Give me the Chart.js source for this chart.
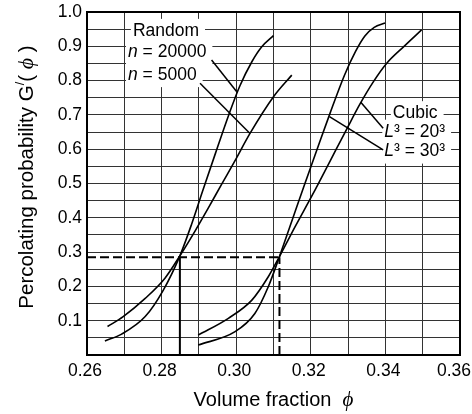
<!DOCTYPE html>
<html>
<head>
<meta charset="utf-8">
<script src="https://cdn.jsdelivr.net/npm/chart.js@4.4.0/dist/chart.umd.min.js"></script>
<style>
  html, body { margin: 0; padding: 0; background: #fff; }
  #wrap { width: 472px; height: 414px; }
</style>
</head>
<body>
<div id="wrap"><canvas id="grafico" width="472" height="414"></canvas></div>
<script>
// curvas (fração de volume, probabilidade)
const phiRandom20k = [0.2648, 0.2693, 0.2756, 0.2805, 0.2849, 0.2880, 0.2910, 0.2945, 0.2980, 0.3010, 0.3042, 0.3068, 0.3100];
const pRandom20k   = [0.041, 0.061, 0.112, 0.190, 0.289, 0.380, 0.478, 0.590, 0.700, 0.785, 0.855, 0.898, 0.931];

const phiRandom5k = [0.2655, 0.2697, 0.2756, 0.2809, 0.2849, 0.2890, 0.2925, 0.2960, 0.2995, 0.3037, 0.3100, 0.3149];
const pRandom5k   = [0.083, 0.112, 0.165, 0.224, 0.289, 0.362, 0.428, 0.496, 0.563, 0.646, 0.753, 0.816];

const phiCubic30 = [0.2898, 0.2997, 0.3050, 0.3086, 0.3116, 0.3149, 0.3180, 0.3216, 0.3251, 0.3290, 0.3320, 0.3345, 0.3370, 0.3399];
const pCubic30   = [0.029, 0.068, 0.121, 0.199, 0.287, 0.390, 0.487, 0.597, 0.703, 0.815, 0.885, 0.930, 0.955, 0.968];

const phiCubic20 = [0.2898, 0.2979, 0.3042, 0.3086, 0.3116, 0.3158, 0.3205, 0.3251, 0.3296, 0.3332, 0.3368, 0.3403, 0.3450, 0.3497];
const pCubic20   = [0.058, 0.107, 0.160, 0.228, 0.287, 0.374, 0.468, 0.564, 0.658, 0.732, 0.797, 0.850, 0.900, 0.948];

// limiares de percolação
const phiCritRandom = 0.2849;
const phiCritCubic = 0.3116;
const pCrit = 0.285;

// linhas de indicação das legendas [phi1, p1, phi2, p2]
const pointer20k = [0.2934, 0.860, 0.3001, 0.768];
const pointer5k  = [0.2903, 0.792, 0.3037, 0.646];
const pointerC20 = [0.3394, 0.661, 0.3334, 0.737];
const pointerC30 = [0.3394, 0.598, 0.3250, 0.695];

// textos das legendas
const noteText = ['Random', 'n = 20000', 'n = 5000', 'Cubic', 'L³ = 20³', 'L³ = 30³'];
const notePhi  = [0.2723, 0.2710, 0.2710, 0.3420, 0.3397, 0.3397];
const noteP    = [0.945, 0.883, 0.816, 0.705, 0.651, 0.593];

const FONTE = '"Liberation Sans", Arial, sans-serif';
const FONTE_PHI = '"Liberation Serif", "DejaVu Serif", serif';

const pontos = (xs, ys) => xs.map((x, i) => ({ x, y: ys[i] }));
const segmento = s => [{ x: s[0], y: s[1] }, { x: s[2], y: s[3] }];

function curva(xs, ys) {
  return {
    data: pontos(xs, ys),
    showLine: true,
    borderColor: '#000',
    borderWidth: 1.6,
    pointRadius: 0,
    cubicInterpolationMode: 'monotone'
  };
}

function reta(dados, largura, traco) {
  return {
    data: dados,
    showLine: true,
    borderColor: '#000',
    borderWidth: largura,
    borderDash: traco || [],
    pointRadius: 0,
    tension: 0
  };
}

// desenha texto com partes em itálico / sobrescrito
function textoRico(ctx, partes, x, y, alinhar) {
  let total = 0;
  partes.forEach(p => { ctx.font = p.font; total += ctx.measureText(p.t).width; });
  let cx = alinhar === 'center' ? x - total / 2 : x;
  ctx.textBaseline = 'middle';
  ctx.textAlign = 'left';
  partes.forEach(p => {
    ctx.font = p.font;
    ctx.fillText(p.t, cx, y + (p.dy || 0));
    cx += ctx.measureText(p.t).width;
  });
  return total;
}

function partesNota(txt) {
  const normal = '17.5px ' + FONTE;
  const ital = 'italic 17.5px ' + FONTE;
  if (txt.startsWith('n ') || txt.startsWith('L')) {
    return [{ t: txt[0], font: ital }, { t: txt.slice(1), font: normal }];
  }
  return [{ t: txt, font: normal }];
}

const sobreposicao = {
  id: 'sobreposicao',
  beforeDatasetsDraw(chart) {
    const ctx = chart.ctx;
    const sx = chart.scales.x, sy = chart.scales.y;
    ctx.save();
    ctx.fillStyle = '#fff';
    noteText.forEach((txt, i) => {
      let w = 0;
      partesNota(txt).forEach(p => { ctx.font = p.font; w += ctx.measureText(p.t).width; });
      const px = sx.getPixelForValue(notePhi[i]);
      const py = sy.getPixelForValue(noteP[i]);
      ctx.fillRect(px - 2, py - 12, w + 8, 24);
    });
    ctx.restore();
  },
  afterDraw(chart) {
    const ctx = chart.ctx;
    const a = chart.chartArea;
    const sx = chart.scales.x, sy = chart.scales.y;
    ctx.save();
    ctx.fillStyle = '#000';

    noteText.forEach((txt, i) => {
      textoRico(ctx, partesNota(txt), sx.getPixelForValue(notePhi[i]), sy.getPixelForValue(noteP[i]), 'left');
    });

    // rótulos do eixo x (o último encostado à borda da figura)
    ctx.font = '17.5px ' + FONTE;
    ctx.textBaseline = 'top';
    ctx.textAlign = 'center';
    sx.ticks.forEach(t => {
      const c = Math.round(t.value * 100);
      if (c % 2 !== 0) return;
      const txt = t.value.toFixed(2);
      const w = ctx.measureText(txt).width;
      let px = sx.getPixelForValue(t.value) - 2;
      px = Math.min(px, chart.width - 1 - w / 2);
      ctx.fillText(txt, px, a.bottom + 7);
    });

    // moldura
    ctx.strokeStyle = '#000';
    ctx.lineWidth = 2;
    ctx.strokeRect(a.left, a.top, a.right - a.left, a.bottom - a.top);

    // título do eixo x
    textoRico(ctx, [
      { t: 'Volume fraction  ', font: '20px ' + FONTE },
      { t: 'ϕ', font: 'italic 21px ' + FONTE_PHI }
    ], (a.left + a.right) / 2, 400, 'center');

    // título do eixo y
    ctx.translate(27, 177);
    ctx.rotate(-Math.PI / 2);
    textoRico(ctx, [
      { t: 'Percolating probability G', font: '20.5px ' + FONTE },
      { t: '/', font: '13px ' + FONTE, dy: -7 },
      { t: '( ', font: '20.5px ' + FONTE },
      { t: 'ϕ', font: 'italic 22px ' + FONTE_PHI },
      { t: ' )', font: '20.5px ' + FONTE }
    ], 0, 0, 'center');
    ctx.restore();
  }
};

const grade = { color: '#333', lineWidth: 1, borderDash: [1, 1], drawTicks: false, tickLength: 0 };

new Chart(document.getElementById('grafico').getContext('2d'), {
  type: 'scatter',
  data: {
    datasets: [
      curva(phiRandom20k, pRandom20k),
      curva(phiRandom5k, pRandom5k),
      curva(phiCubic30, pCubic30),
      curva(phiCubic20, pCubic20),
      reta([{ x: 0.26, y: pCrit }, { x: phiCritCubic, y: pCrit }], 2, [9, 4]),
      reta([{ x: phiCritCubic, y: 0 }, { x: phiCritCubic, y: pCrit }], 2, [9, 4]),
      reta([{ x: phiCritRandom, y: 0 }, { x: phiCritRandom, y: pCrit }], 2),
      reta(segmento(pointer20k), 1.5),
      reta(segmento(pointer5k), 1.5),
      reta(segmento(pointerC20), 1.5),
      reta(segmento(pointerC30), 1.5)
    ]
  },
  options: {
    responsive: false,
    animation: false,
    layout: { padding: { left: 0, top: 12, right: 12, bottom: 0 } },
    plugins: {
      legend: { display: false },
      tooltip: { enabled: false }
    },
    scales: {
      x: {
        type: 'linear',
        min: 0.26,
        max: 0.36,
        grid: grade,
        border: { display: false },
        ticks: {
          stepSize: 0.01,
          autoSkip: false,
          maxRotation: 0,
          font: { family: FONTE, size: 17.5 },
          // os rótulos são desenhados pelo plugin para não cortar 0.36
          callback: () => ''
        },
        afterFit: s => { s.height = 59; s.paddingLeft = 0; s.paddingRight = 0; }
      },
      y: {
        type: 'linear',
        min: 0,
        max: 1,
        grid: grade,
        border: { display: false },
        ticks: {
          stepSize: 0.05,
          padding: 5,
          color: '#000',
          font: { family: FONTE, size: 17.5 },
          autoSkip: false,
          callback: v => {
            const c = Math.round(v * 100);
            return c > 0 && c % 10 === 0 ? v.toFixed(1) : '';
          }
        },
        afterFit: s => { s.width = 87; s.paddingTop = 0; s.paddingBottom = 0; }
      }
    }
  },
  plugins: [sobreposicao]
});
</script>
</body>
</html>
